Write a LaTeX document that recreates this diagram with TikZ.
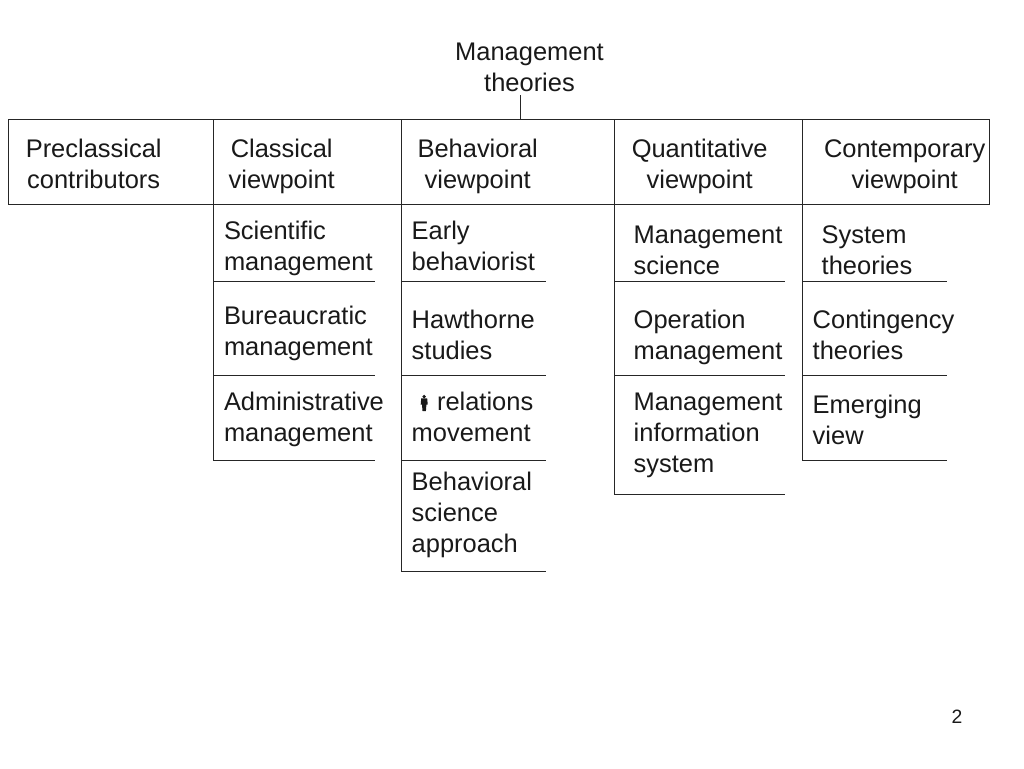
\documentclass[tikz,border=0pt]{standalone}
\usepackage{fontspec}
\setmainfont{Liberation Sans}
\tikzset{
  txt/.style={inner sep=0pt,outer sep=0pt,text=black!90,font=\fontsize{19.1}{23.25}\selectfont},
  lft/.style={txt,anchor=base west,align=left},
  ctr/.style={txt,anchor=base,align=center},
  rulex/.style={draw=black!85,line width=0.75pt},
}
\begin{document}
\begin{tikzpicture}[x=0.75pt,y=-0.75pt]
\useasboundingbox (0,0) rectangle (1024,768);
\coordinate (tl) at (8.8,119.7);
\coordinate (br) at (989.8,204.7);
\coordinate (stemb) at (520.7,119.7);
\coordinate (stemt) at (520.7,95);
\draw[rulex] (tl) rectangle (br);
\draw[rulex] (stemt) -- (stemb);
\foreach \nm/\cx/\ex/\by/\ys in {
 a/213/375/460/{281.7,375,460},
 b/401/546/571/{281.7,375,460,571},
 c/614/785/494.7/{281.7,375,494.7},
 d/802/947/460/{281.7,375,460}}{
  \coordinate (\nm top) at (\cx,119.7);
  \coordinate (\nm bot) at (\cx,\by);
  \draw[rulex] (\nm top) -- (\nm bot);
  \foreach \yy in \ys {
    \coordinate (\nm L) at (\cx,\yy);
    \coordinate (\nm R) at (\ex,\yy);
    \draw[rulex] (\nm L) -- (\nm R);
  }
}
\node[ctr] (title) at (529.5,91) {Management\\theories};
\node[ctr] (h1) at (93.7,188.5) {Preclassical\\contributors};
\node[ctr] (h2) at (281.7,188.5) {Classical\\viewpoint};
\node[ctr] (h3) at (477.7,188.5) {Behavioral\\viewpoint};
\node[ctr] (h4) at (699.7,188.5) {Quantitative\\viewpoint};
\node[ctr] (h5) at (904.7,188.5) {Contemporary\\viewpoint};
\node[lft] (a1) at (224,270.3) {Scientific\\management};
\node[lft] (a2) at (224,355.7) {Bureaucratic\\management};
\node[lft] (a3) at (224,441) {Administrative\\management};
\node[lft] (b1) at (411.7,270.3) {Early\\behaviorist};
\node[lft] (b2) at (411.7,359.3) {Hawthorne\\studies};
\node[lft] (b3) at (411.7,441) {\hspace{19pt}relations\\movement};
\node[lft] (b4) at (411.7,552.5) {Behavioral\\science\\approach};
\node[lft] (c1) at (633.7,274) {Management\\science};
\node[lft] (c2) at (633.7,359.3) {Operation\\management};
\node[lft] (c3) at (633.7,472.3) {Management\\information\\system};
\node[lft] (d1) at (821.7,274) {System\\theories};
\node[lft] (d2) at (812.7,359.3) {Contingency\\theories};
\node[lft] (d3) at (812.7,444.7) {Emerging\\view};
\node[txt,font=\fontsize{14.5}{17}\selectfont] (pg) at (957,717) {2};
\fill[black!90] (424.2,396.6) circle (1.9);
\fill[black!90] (421.2,398.4) -- (427.2,398.4) -- (427.7,404.5) -- (426.4,404.5) -- (425.9,411) -- (422.5,411) -- (422,404.5) -- (420.7,404.5) -- cycle;
\end{tikzpicture}
\end{document}
